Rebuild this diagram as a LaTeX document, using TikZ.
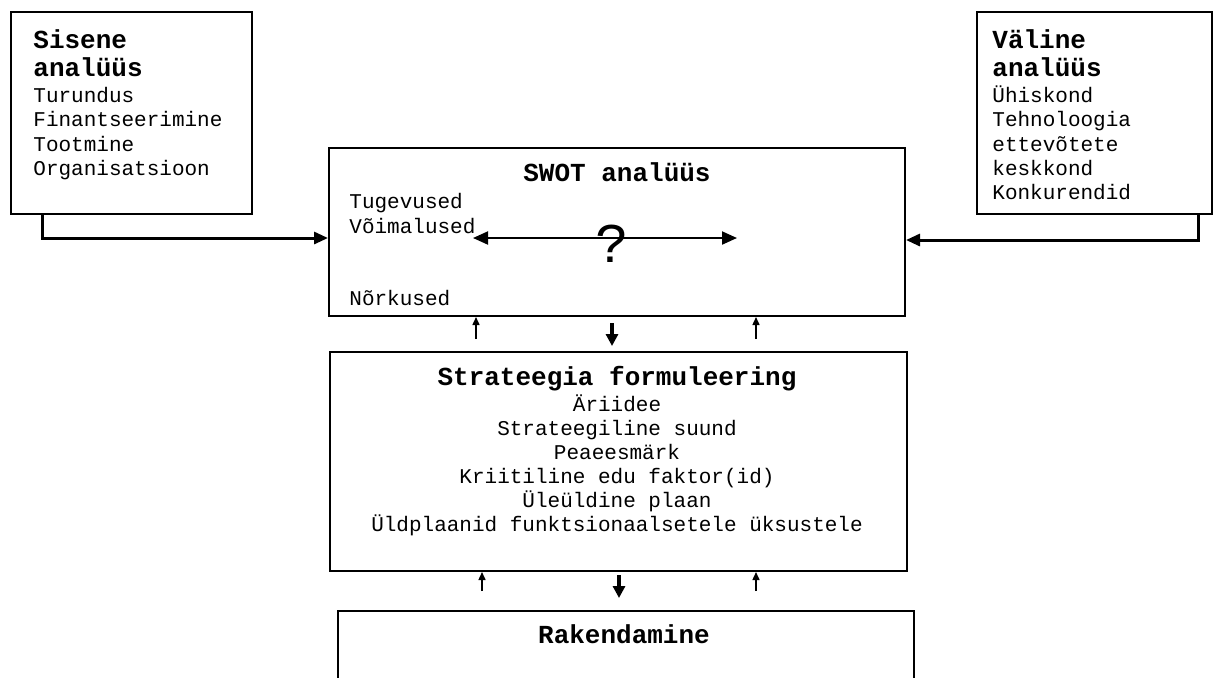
\documentclass[tikz,border=0pt]{standalone}
\usepackage{fontspec}
\setmonofont{Liberation Mono}
\usetikzlibrary{arrows.meta}
\tikzset{
  box/.style={draw, line width=1pt, inner sep=0pt},
  reg/.style={font=\ttfamily\fontsize{10.5}{12}\selectfont, inner sep=0pt},
  ttl/.style={font=\ttfamily\bfseries\fontsize{13}{15}\selectfont, inner sep=0pt},
  elbow/.style={line width=1.5pt, -{Triangle[length=7pt,width=6pt]}},
  dbl/.style={line width=1pt, {Triangle[length=7.5pt,width=6.5pt]}-{Triangle[length=7.5pt,width=6.5pt]}},
  uparr/.style={line width=0.75pt, -{Triangle[length=4pt,width=3.5pt]}},
  downarr/.style={line width=1.6pt, -{Triangle[length=6pt,width=6pt]}}
}
\begin{document}
\begin{tikzpicture}[x=0.5pt,y=-0.5pt]
\useasboundingbox (0,0) rectangle (1214,677);
% boxes
\node[box, minimum width=120.5pt, minimum height=101pt] (sisene) at (131.5,113) {};
\node[box, minimum width=117.5pt, minimum height=101pt] (valine) at (1094.5,113) {};
\node[box, minimum width=288pt, minimum height=84pt] (swot) at (617,232) {};
\node[box, minimum width=288.5pt, minimum height=109.5pt] (strat) at (618.5,461.5) {};
\coordinate (rakbl) at (338,690);
\coordinate (rakbr) at (914,690);
\draw[line width=1pt] (rakbl) |- (914,611) coordinate (raktr) -- (rakbr);
% Sisene texts
\node[ttl, anchor=base west] (s1) at (33,48) {Sisene};
\node[ttl, anchor=base west] (s2) at (33,76) {analüüs};
\node[reg, anchor=base west] (s3) at (33,102) {Turundus};
\node[reg, anchor=base west] (s4) at (33,126.5) {Finantseerimine};
\node[reg, anchor=base west] (s5) at (33,151) {Tootmine};
\node[reg, anchor=base west] (s6) at (33,175.5) {Organisatsioon};
% Valine texts
\node[ttl, anchor=base west] (v1) at (992,48) {Väline};
\node[ttl, anchor=base west] (v2) at (992,76) {analüüs};
\node[reg, anchor=base west] (v3) at (992,102) {Ühiskond};
\node[reg, anchor=base west] (v4) at (992,126.5) {Tehnoloogia};
\node[reg, anchor=base west] (v5) at (992,151) {ettevõtete};
\node[reg, anchor=base west] (v6) at (992,175.5) {keskkond};
\node[reg, anchor=base west] (v7) at (992,199) {Konkurendid};
% SWOT texts
\node[ttl, anchor=base] (w1) at (617,181) {SWOT analüüs};
\node[reg, anchor=base west] (w2) at (349,208) {Tugevused};
\node[reg, anchor=base west] (w3) at (349,233) {Võimalused};
\node[reg, anchor=base west] (w4) at (349,305) {Nõrkused};
\node[font=\ttfamily\fontsize{28}{30}\selectfont, inner sep=0pt] (q) at (612,244) {?};
\coordinate (dl) at (473,238);
\coordinate (dr) at (737,238);
\draw[dbl] (dl) -- (dr);
% Strategy texts
\node[ttl, anchor=base] (t0) at (617,385) {Strateegia formuleering};
\node[reg, anchor=base] (t1) at (617,411) {Äriidee};
\node[reg, anchor=base] (t2) at (617,435) {Strateegiline suund};
\node[reg, anchor=base] (t3) at (617,459) {Peaeesmärk};
\node[reg, anchor=base] (t4) at (617,483) {Kriitiline edu faktor(id)};
\node[reg, anchor=base] (t5) at (617,507) {Üleüldine plaan};
\node[reg, anchor=base] (t6) at (617,531) {Üldplaanid funktsionaalsetele üksustele};
% Rakendamine
\node[ttl, anchor=base] (r0) at (624,643) {Rakendamine};
% elbow arrows
\draw[elbow] (sisene.south -| 42,0) |- (swot.west |- 0,238);
\draw[elbow] (valine.south -| 1198,0) |- (swot.east |- 0,240);
% small arrows between SWOT and strategy
\coordinate (u1) at (476,339);
\coordinate (u2) at (756,339);
\coordinate (d1) at (612,323);
\draw[uparr] (u1) -- (swot.south -| u1);
\draw[uparr] (u2) -- (swot.south -| u2);
\draw[downarr] (d1) -- (612,346) coordinate (d1e);
% small arrows between strategy and Rakendamine
\coordinate (u3) at (482,591);
\coordinate (u4) at (756,591);
\coordinate (d2) at (619,575);
\draw[uparr] (u3) -- (strat.south -| u3);
\draw[uparr] (u4) -- (strat.south -| u4);
\draw[downarr] (d2) -- (619,598) coordinate (d2e);
\end{tikzpicture}
\end{document}
